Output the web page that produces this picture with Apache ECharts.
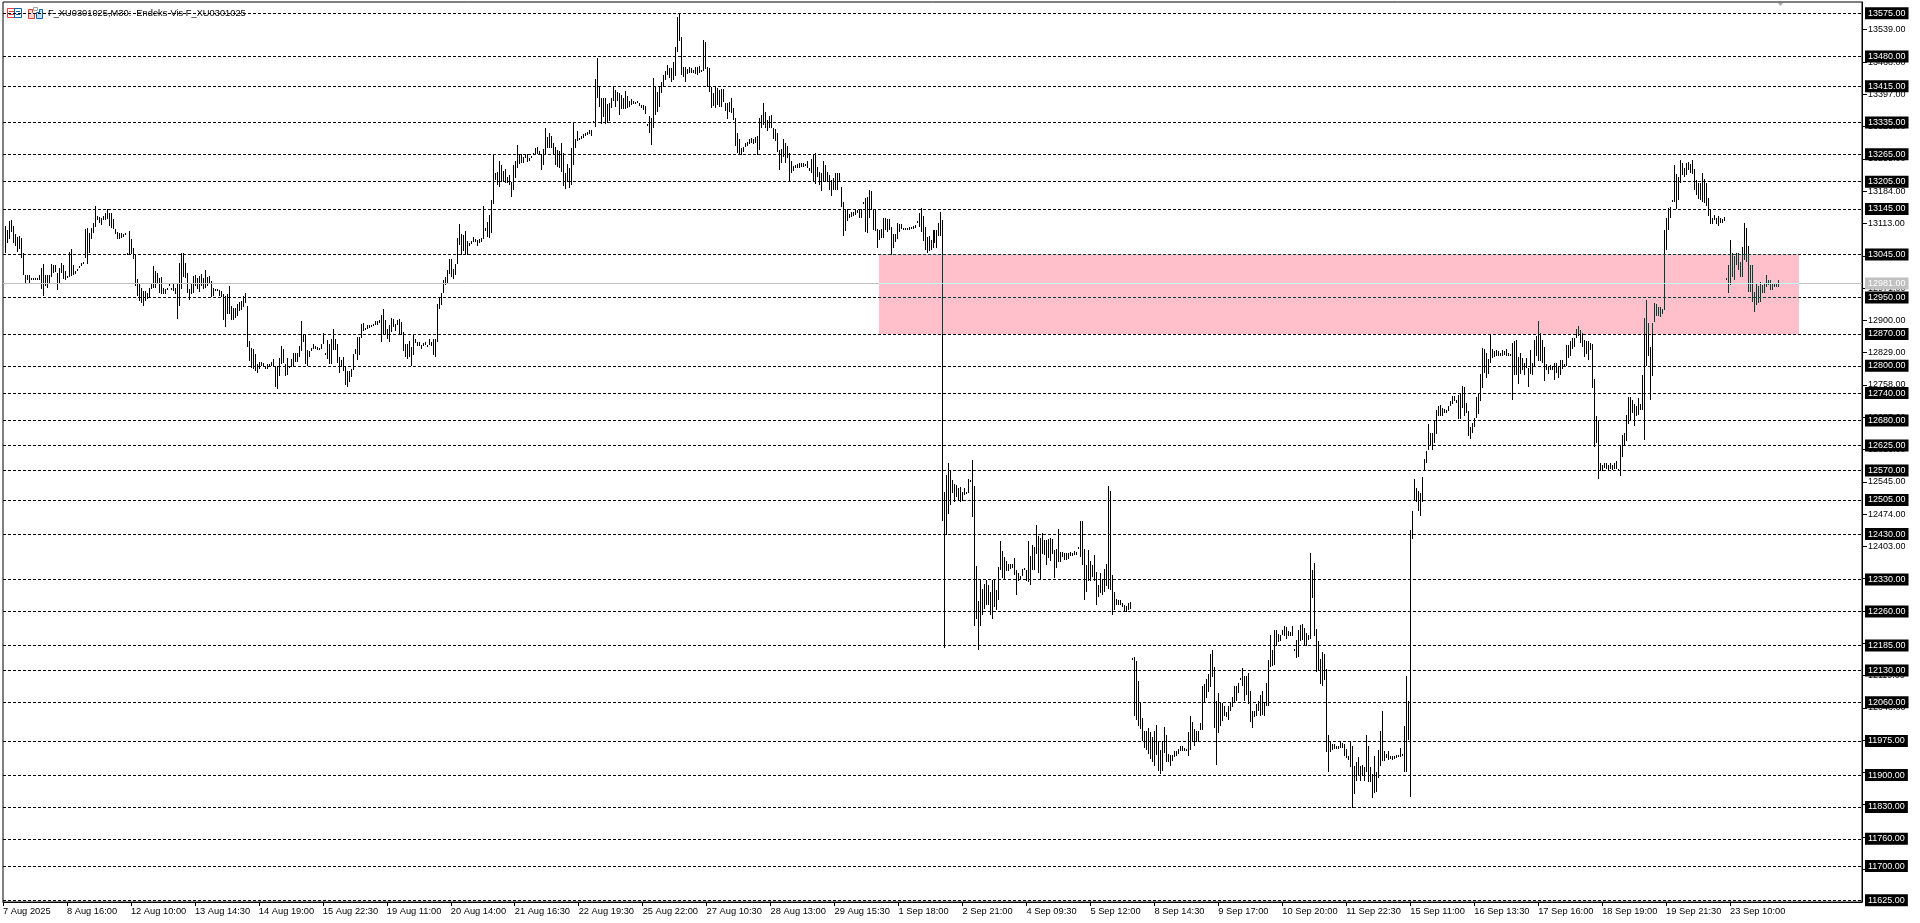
<!DOCTYPE html>
<html><head><meta charset="utf-8">
<style>html,body{margin:0;padding:0;background:#fff}#c{width:1920px;height:923px}</style>
<script src="https://cdn.jsdelivr.net/npm/echarts@6/dist/echarts.min.js"></script>
</head><body><div id="c"></div>
<script>
const chartTitle = 'F_XU0301025,M30:  Endeks-Vis F_XU0301025';
const timeLabels = ['7 Aug 2025','8 Aug 16:00','12 Aug 10:00','13 Aug 14:30','14 Aug 19:00','15 Aug 22:30','19 Aug 11:00','20 Aug 14:00','21 Aug 16:30','22 Aug 19:30','25 Aug 22:00','27 Aug 10:30','28 Aug 13:00','29 Aug 15:30','1 Sep 18:00','2 Sep 21:00','4 Sep 09:30','5 Sep 12:00','8 Sep 14:30','9 Sep 17:00','10 Sep 20:00','11 Sep 22:30','15 Sep 11:00','16 Sep 13:30','17 Sep 16:00','18 Sep 19:00','19 Sep 21:30','23 Sep 10:00'];
const barsPerLabel = 32;
const priceTicks = [13539,13468,13397,13326,13255,13184,13113,13042,12971,12900,12829,12758,12687,12616,12545,12474,12403,12332,12261,12190,12119,12048,11977,11906,11835,11764,11693];
const levels = [13575,13480,13415,13335,13265,13205,13145,13045,12950,12870,12800,12740,12680,12625,12570,12505,12430,12330,12260,12185,12130,12060,11975,11900,11830,11760,11700,11625];
const lastPrice = 12981;
const zoneBars = [438,898];
const zonePrices = [13045,12870];

// high,low pairs, one M30 bar after another
const stretch1 = [
13107,13048,13098,13070,13119,13078,13120,13094,13108,13070,13089,13063,13083,13050,13086,13056,13082,13037,13048,13000,
13000,12981,13000,12988,13000,12981,12993,12988,12993,12988,12993,12988,12993,12988,13000,12988,13015,12968,13023,12954,
13000,12976,13000,12971,13000,12979,13024,12995,13022,13004,13022,13006,13004,12966,13015,12979,13027,13004,13022,12990,
13008,12988,12998,12995,13050,12995,13057,12997,13022,13000,13008,13003,13013,13008,13020,13016,13025,13020,13029,13025,
13100,13037,13102,13023,13092,13048,13103,13078,13114,13092,13151,13105,13130,13121,13127,13114,13125,13110,13130,13120,
13137,13120,13145,13123,13136,13108,13135,13103,13123,13101,13101,13089,13094,13078,13092,13079,13091,13081,13089,13084,
13091,13087,13048,13045,13097,13045,13079,13045,13060,13035,13046,12976,
12990,12954,12981,12942,12971,12938,12964,12931,12964,12942,12960,12946,12971,12951,12982,12968,13020,12971,13008,12971,
13004,12981,12993,12960,12995,12958,12971,12957,12969,12958,12971,12966,12979,12975,12971,12968,12979,12964,12971,12957,
12979,12902,13025,12932,13048,12970,13048,12995,13025,12993,13004,12960,12968,12944,12979,12959,12998,12960,13000,12975,
12993,12968,12998,12962,13003,12975,12993,12968,13011,12971,12995,12975,12998,12981,12986,12951,12971,12954,12970,12966,
12970,12964,12966,12954,12964,12951,12957,12900,12954,12885,12957,12915,12976,12915,12931,12900,12927,12900,12927,12905,
12937,12910,12940,12920,12942,12922,12953,12930,12960,12938,12932,12841,12854,12810,12839,12795,12837,12792,12825,12788,
12803,12784,12808,12792,12808,12799,12806,12799,12799,12793,12803,12792,12805,12799,12808,12799,12814,12799,12799,12754,
12799,12748,12817,12777,12844,12803,12837,12806,12803,12778,12817,12780,12799,12795,12815,12797,12828,12799,12828,12809,
12828,12809,12844,12820];
const stretch2 = [
12898,12833,12870,12853,12870,12804,12835,12799,12833,12819,12839,12833,12848,12838,12843,12836,12842,12835,12840,12835,
12848,12838,12873,12849,12829,12824,12857,12814,12848,12804,12860,12804,12880,12835,12858,12835,12849,12807,12819,12785,
12813,12798,12820,12789,12799,12758,12789,12754,12789,12765,12792,12775,12826,12791,12838,12827,12864,12813,12864,12824,
12892,12862,12895,12877,12884,12879,12890,12882,12889,12884,12890,12886,12893,12888,12899,12889,12899,12889,12901,12895,
12911,12853,12926,12868,12900,12870,12880,12860,12889,12853,12906,12875,12904,12886,12892,12877,12901,12890,12904,12870,
12897,12868,12875,12833,12849,12820,12849,12816,12855,12820,12842,12799,12870,12824,12860,12851,12853,12843,12853,12843,
12846,12838,12851,12843,12853,12846,12846,12841,12858,12846,12853,12843,12860,12824,12860,12819,12937,12853,12950,12926,
12961,12934,12988,12961,12996,12977,13011,12980,13034,13002,13034,12996,13012,12992,13024,13000,13082,13024,13112,13066,
13090,13043,13087,13053,13097,13046,13075,13043,13071,13063,13075,13068,13084,13073,13078,13073,13076,13063,13078,13069,
13080,13073,13151,13078,13102,13097,13117,13084,13131,13082,13164,13093,13264,13156,13225,13209,13227,13197,13251,13194,
13242,13205,13229,13205,13232,13203,13216,13203,13219,13197,13205,13172,13242,13187,13251,13214,13285,13234,13266,13244,
13266,13247,13260,13247,13266,13258,13266,13249,13256,13251,13261,13258,13267,13263,13278,13266,13282,13266,13273,13266,
13266,13230,13276,13241,13322,13263,13304,13278,13313,13280,13305,13278,13291,13266,13282,13241,13274,13238,13273,13234,
13289,13227,13267,13195,13223,13188,13244,13205,13234,13190,13278,13197,13335,13241,13298,13278,13317,13295,13302,13296,
13305,13298,13310,13302,13311,13305,13315,13307,13318,13310];
const stretch3 = [
13318,13305,13339,13335,13431,13326,13476,13390,13415,13370,13388,13332,13390,13348,13390,13332,13376,13333,13377,13339,
13390,13366,13412,13383,13406,13370,13403,13383,13399,13351,13395,13364,13388,13364,13405,13364,13393,13366,13383,13370,
13386,13373,13383,13376,13381,13376,13383,13379,13377,13371,13374,13366,13373,13362,13371,13354,13331,13329,13349,13313,
13346,13285,13432,13324,13415,13351,13403,13359,13412,13370,13425,13399,13439,13412,13449,13428,13461,13439,13454,13432,
13454,13425,13469,13428,13500,13437,13566,13491,13573,13515,13522,13439,13458,13436,13456,13425,13452,13442,13456,13444,
13454,13443,13450,13444,13456,13442,13458,13439,13459,13443,13450,13447,13516,13449,13513,13452,13456,13414,13454,13403,
13414,13368,13400,13371,13412,13368,13410,13373,13406,13370,13408,13370,13409,13381,13378,13361,13378,13342,13381,13359,
13388,13355,13366,13340,13344,13283,13311,13269,13298,13263,13278,13263,13282,13271,13291,13282,13293,13283,13298,13288,
13302,13289,13298,13288,13304,13291,13305,13263,13344,13274,13351,13322,13378,13329,13359,13324,13340,13317,13349,13322,
13351,13324,13322,13298,13320,13295,13311,13271,13274,13230,13276,13245,13298,13260,13289,13245,13283,13258,13269,13205,
13251,13225,13239,13229,13241,13234,13244,13236,13245,13236,13245,13238,13247,13238,13244,13239,13251,13234,13236,13229,
13254,13223,13263,13205,13269,13200,13238,13216,13227,13197,13225,13185,13251,13205,13242,13205,13227,13205,13220,13186,
13208,13173,13212,13186,13223,13186,13225,13186,13224,13205,13194,13150,13161,13085,13144,13097,13144,13119,13134,13124,
13139,13128,13139,13129,13142,13131,13142,13135,13142,13124,13144,13126,13161,13156,13168,13095,13172,13093,13186,13124,
13185,13142,13144,13099,13144,13097,13100,13060,13098,13077,13100,13080,13126,13080,13126,13099,13122,13095,13122,13099,
13106,13044,13090,13058,13090,13073,13113,13078,13112,13095,13112,13100,13104,13098,13102,13098,13102,13098,13106,13098,
13106,13100,13107,13100,13110,13102,13119,13116,13137,13106,13148,13095,13129,13075,13106,13055,13084,13047,13085,13053,
13077,13055,13098,13058,13098,13069,13098,13058,13113,13085,13139,13085];
const stretch4 = [
13121,12459,12523,12180,12559,12429,12587,12475,12570,12493,12550,12520,12541,12500,12539,12511,12532,12504,12533,12500,
12522,12503,12531,12515,12522,12519,12552,12520,12550,12547,12593,12467,12535,12228,12359,12244,12283,12176,12330,12228,
12310,12251,12321,12266,12330,12273,12317,12273,12302,12251,12330,12244,12330,12269,12306,12262,12357,12284,12414,12350,
12392,12334,12379,12332,12370,12349,12365,12349,12365,12354,12365,12356,12378,12339,12352,12297,12344,12327,12337,12328,
12354,12337,12355,12352,12352,12327,12414,12324,12381,12319,12407,12352,12401,12350,12449,12387,12425,12344,12422,12332,
12432,12387,12416,12383,12418,12361,12420,12378,12422,12371,12420,12387,12396,12334,12398,12356,12442,12368,12390,12368,
12390,12379,12388,12372,12388,12374,12388,12376,12390,12381,12388,12381,12393,12383,12390,12385,12401,12397,12459,12379,
12459,12361,12398,12284,12361,12302,12394,12327,12371,12327,12361,12335,12383,12327,12346,12275,12317,12291,12344,12300,
12332,12297,12354,12302,12365,12315,12535,12310,12525,12308,12341,12251,12302,12264,12288,12275,12286,12273,12286,12273,
12278,12269,12275,12258,12271,12258,12278,12262,12280,12266];
const stretch5 = [
12158,12155,12159,12029,12150,12022,12108,12007,12058,12002,12026,11976,11998,11960,11998,11956,12003,11947,11994,11936,
11983,11929,11998,11921,12011,11945,11976,11909,11956,11903,11976,11910,12005,11948,11989,11929,11947,11929,11945,11919,
11945,11931,11953,11939,11954,11943,11958,11947,11965,11954,11965,11953,11960,11953,11958,11953,11994,11941,12029,11956,
12017,11972,12002,11963,11998,11972,11998,11972,12014,12000,12095,12000,12101,12058,12112,12070,12123,12082,12167,12093,
12176,12115,12137,12004,12063,11923,12080,11992,12058,12009,12058,12019,12051,12029,12038,12027,12051,12022,12058,12041,
12071,12049,12097,12060,12097,12064,12102,12080,12114,12111,12136,12097,12119,12064,12119,12077,12124,12057,12086,12016,
12042,12004,12042,12027,12057,12031,12063,12042,12077,12031,12085,12033,12060,12031,12102,12051,12154,12053,12209,12137,
12176,12141,12220,12143,12220,12185,12211,12192,12209,12196,12218,12209,12227,12207,12225,12200,12217,12205,12214,12207,
12227,12207,12178,12176,12198,12158,12218,12159,12229,12196,12233,12198,12224,12185,12212,12185,12209,12198,12388,12200,
12350,12290,12366,12205,12222,12126,12196,12129,12156,12101,12170,12097,12167,12110,12134,11950,11989,11907,11976,11950,
11969,11956,11969,11958,11963,11958,11965,11958,11974,11960,11970,11960,11969,11941,11958,11938,11941,11934,11973,11917,
11965,11828,11921,11859,11928,11887,11939,11897,11921,11887,11923,11897,11917,11887,11989,11907,11965,11885,11917,11885,
11903,11850,11943,11860,11907,11863,11956,11894,11998,11919,12042,11931,11953,11932,11947,11938,11953,11934,11943,11936,
11943,11934,11943,11936,11945,11938,11945,11939,11960,11940,11947,11941,12007,11907,12117,11907,12062,11978,12440,11852];
const stretch6 = [
12480,12420,12551,12505,12531,12500,12525,12480,12520,12470,12555,12500,12595,12570,12612,12587,12672,12615,12653,12626,
12653,12615,12681,12630,12703,12650,12711,12689,12714,12689,12707,12690,12705,12696,12703,12697,12711,12700,12722,12711,
12734,12716,12733,12722,12725,12719,12736,12683,12740,12683,12756,12707,12753,12689,12719,12696,12700,12645,12665,12639,
12674,12653,12685,12665,12731,12685,12740,12694,12782,12722,12839,12751,12837,12784,12828,12773,12815,12782,12870,12807,
12837,12817,12832,12819,12835,12821,12832,12822,12829,12821,12834,12822,12832,12824,12837,12822,12828,12822,12826,12821,
12850,12724,12854,12780,12856,12780,12819,12760,12829,12782,12817,12791,12806,12780,12817,12795,12795,12753,12834,12782,
12806,12780,12857,12799,12866,12822,12898,12810,12873,12810,12857,12806,12842,12766,12804,12791,12800,12782,12802,12790,
12800,12790,12806,12769,12806,12785,12799,12773,12812,12780,12812,12793,12804,12799,12846,12800,12846,12817,12854,12822,
12861,12837,12861,12842,12881,12861,12887,12865,12879,12850,12873,12842,12857,12819,12854,12826,12854,12812,12851,12835,
12848,12751,12771,12621,12689,12630,12681,12551,12587,12570,12582,12568,12587,12575,12587,12573,12582,12570,12586,12573,
12582,12571,12587,12573,12590,12573,12573,12568,12626,12557,12648,12599,12653,12626,12692,12634,12731,12672,12731,12680,
12724,12696,12716,12667,12711,12689,12729,12692,12716,12702,12780,12703,12905,12636,12945,12799,12894,12821,12842,12724,
12894,12778,12939,12897,12936,12910,12929,12910,12929,12907,12925,12914,13099,12923,13125,13054,13147,13099,13149,13125,
13164,13161,13242,13161,13222,13145,13216,13165,13253,13203,13246,13220,13235,13216,13246,13220,13249,13230,13244,13224,
13253,13222,13232,13186,13209,13176,13202,13167,13202,13164,13224,13161,13210,13158,13202,13152,13169,13130,13142,13112,
13125,13112,13132,13121,13125,13112,13130,13108,13125,13114,13123,13115,13127,13119];
const stretch7 = [
12993,12991,13022,12960,13076,12978,13048,12995,13042,12988,13048,13022,13048,13010,13029,12996,13061,12995,13114,13033,
13103,13029,13064,12963,13022,12963,13022,12941,12963,12919,12982,12934,12976,12939,12985,12941,12978,12960,12980,12960,
12999,12973,12989,12978,12988,12966,12982,12966,12980,12974,12980,12974,12989,12974];

const flat = [].concat(stretch1, stretch2, stretch3, stretch4, stretch5, stretch6, stretch7);
const bars = [];
for (let i = 0; i + 1 < flat.length; i += 2) bars.push([i / 2 + 1, flat[i], flat[i + 1]]);

const fontFamily = '"Liberation Sans", Arial, sans-serif';
const chart = echarts.init(document.getElementById('c'), null, {renderer: 'canvas'});
const xTicks = timeLabels.map((_, i) => i * barsPerLabel);

chart.setOption({
  animation: false,
  backgroundColor: '#ffffff',
  title: {text: chartTitle, left: 48, top: 7, padding: 0,
    textStyle: {color: '#000', fontWeight: 'normal', fontFamily, fontSize: 9.3, lineHeight: 12}},
  grid: {left: 2, top: 2, width: 1860, height: 900, show: true, borderColor: '#000', borderWidth: 1, backgroundColor: 'transparent'},
  xAxis: {type: 'value', min: 0, max: 930,
    axisLine: {show: true, onZero: false, lineStyle: {color: '#000'}},
    axisTick: {show: true, length: 4, customValues: xTicks, lineStyle: {color: '#000'}},
    axisLabel: {show: true, customValues: xTicks, margin: 5, align: 'left', color: '#000', fontFamily, fontSize: 9.3,
      hideOverlap: false, showMinLabel: true, showMaxLabel: true,
      formatter: v => timeLabels[Math.round(v / barsPerLabel)] || ''},
    splitLine: {show: false}},
  yAxis: {type: 'value', position: 'right', min: 11621, max: 13600,
    axisLine: {show: true, onZero: false, lineStyle: {color: '#000'}},
    axisTick: {show: true, length: 5, customValues: priceTicks, lineStyle: {color: '#000'}},
    axisLabel: {show: true, customValues: priceTicks, margin: 6, align: 'left', color: '#000', fontFamily, fontSize: 9,
      hideOverlap: false, formatter: v => v.toFixed(2)},
    splitLine: {show: false}},
  graphic: [
    {type: 'group', silent: true, z: 20, children: [
      {type: 'rect', shape: {x: 7.5, y: 8.5, width: 7, height: 9}, style: {fill: '#fff', stroke: '#e53935', lineWidth: 1}},
      {type: 'rect', shape: {x: 14.5, y: 8.5, width: 7, height: 9}, style: {fill: '#fff', stroke: '#0b62a8', lineWidth: 1}},
      {type: 'line', shape: {x1: 9, y1: 11.5, x2: 14, y2: 11.5}, style: {stroke: '#e53935'}},
      {type: 'line', shape: {x1: 9, y1: 14.5, x2: 14, y2: 14.5}, style: {stroke: '#e53935'}},
      {type: 'line', shape: {x1: 16, y1: 11.5, x2: 20, y2: 11.5}, style: {stroke: '#0b62a8'}},
      {type: 'line', shape: {x1: 16, y1: 14.5, x2: 20, y2: 14.5}, style: {stroke: '#0b62a8'}},
      {type: 'polygon', shape: {points: [[28.5, 9.5], [32.5, 9.5], [32.5, 12.5], [34.5, 14], [34.5, 18.5], [28.5, 18.5]]}, style: {fill: '#ffd5cf', stroke: '#e53935', lineWidth: 1}},
      {type: 'polygon', shape: {points: [[36.5, 12.5], [39.5, 12.5], [39.5, 9.5], [42.5, 9.5], [42.5, 18.5], [36.5, 18.5]]}, style: {fill: '#bfe0f7', stroke: '#0b62a8', lineWidth: 1}},
      {type: 'rect', shape: {x: 33.5, y: 7.5, width: 4, height: 3}, style: {fill: '#fff', stroke: '#a0a0a0', lineWidth: 1}},
      {type: 'polygon', shape: {points: [[1778, 3], [1783, 3], [1780.5, 6]]}, style: {fill: '#a8a8a8'}}
    ]}
  ],
  series: [
    {type: 'custom', name: 'bars', z: 2, clip: false, silent: true,
      data: bars, encode: {x: 0, y: [1, 2]},
      renderItem(params, api) {
        const top = api.coord([api.value(0), api.value(1)]);
        const bot = api.coord([api.value(0), api.value(2)]);
        const y1 = Math.round(top[1]), y2 = Math.round(bot[1]);
        return {type: 'rect', shape: {x: Math.round(top[0]), y: y1, width: 1, height: Math.max(2, y2 - y1)},
          style: {fill: '#000'}};
      },
      markLine: {silent: true, symbol: 'none', animation: false, precision: 2, z: 3,
        lineStyle: {color: '#000', type: [3, 2], width: 1},
        label: {show: true, position: 'end', distance: 3, color: '#fff', backgroundColor: '#000',
          padding: [2, 3, 1, 3], fontFamily, fontSize: 9, formatter: p => Number(p.value).toFixed(2)},
        data: levels.map(v => ({yAxis: v})).concat([{yAxis: lastPrice,
          lineStyle: {color: '#c0c0c0', type: 'solid', width: 1},
          label: {backgroundColor: '#c0c0c0', color: '#fff'}}])}
    },
    {type: 'custom', name: 'zone', z: 10, clip: false, silent: true,
      data: [[zoneBars[0], zoneBars[1], zonePrices[0], zonePrices[1]]],
      encode: {x: [0, 1], y: [2, 3]},
      renderItem(params, api) {
        const a = api.coord([api.value(0), api.value(2)]);
        const b = api.coord([api.value(1), api.value(3)]);
        const x = Math.round(a[0]), w = Math.round(b[0] - a[0]);
        return {type: 'rect', shape: {x, y: Math.round(a[1]), width: w, height: Math.round(b[1] - a[1])},
          style: {fill: '#003f34'}};
      }
    },
    {type: 'custom', name: 'lastInZone', z: 11, clip: false, silent: true,
      data: [[zoneBars[0], zoneBars[1], lastPrice]],
      encode: {x: [0, 1], y: 2},
      renderItem(params, api) {
        const a = api.coord([api.value(0), api.value(2)]);
        const b = api.coord([api.value(1), api.value(2)]);
        return {type: 'rect', shape: {x: Math.round(a[0]), y: Math.floor(a[1]), width: Math.round(b[0] - a[0]), height: 1},
          style: {fill: '#c0fff4'}};
      }
    }
  ]
});
// The zone is an XOR-style overlay in the original: white turns pink, black turns dark green.
chart.getZr().storage.traverse(el => {
  if (el.style && el.style.fill === '#003f34') { el.style.blend = 'difference'; el.markRedraw(); }
});
chart.getZr().refreshImmediately();
</script></body></html>
